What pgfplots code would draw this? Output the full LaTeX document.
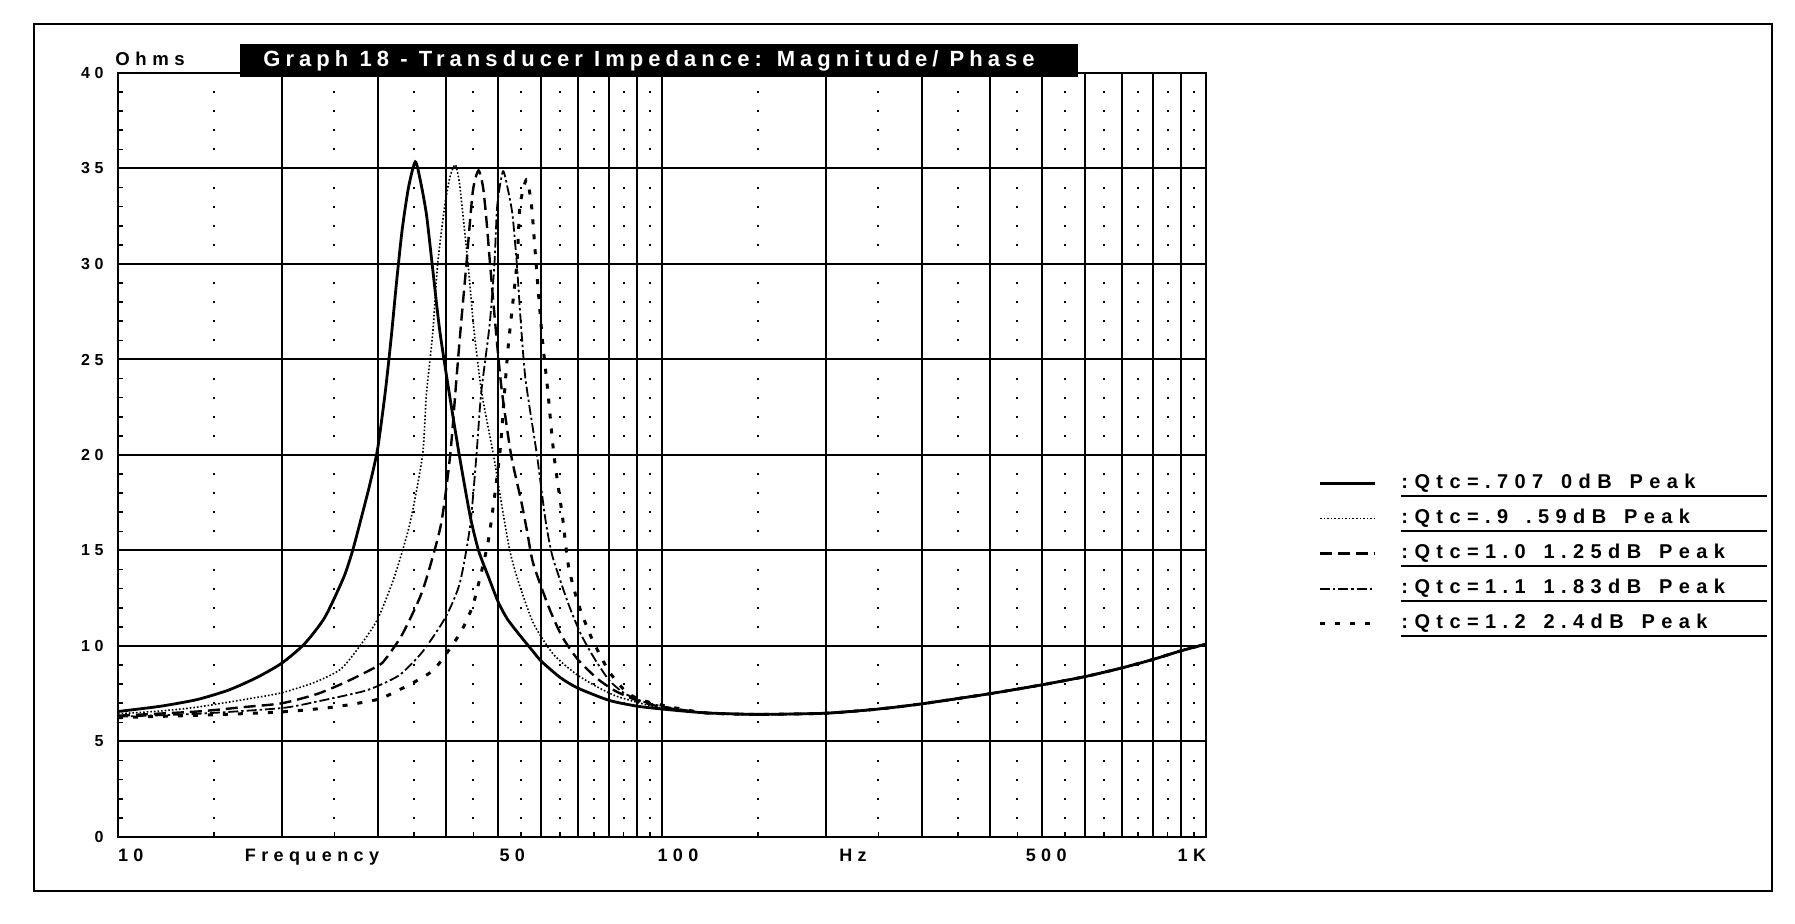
\documentclass[border=0pt]{standalone}
\usepackage{fontspec}
\setmainfont{Liberation Sans}
\newfontfamily\spaced[LetterSpace=30]{Liberation Sans}
\newfontfamily\legfont[LetterSpace=32,WordSpace=1.5]{Liberation Sans}
\newfontfamily\titlefont[LetterSpace=23]{Liberation Sans}
\usepackage{pgfplots}
\pgfplotsset{compat=1.18}
\newcommand\ul{\rlap{\smash{\rule[-4.25pt]{183pt}{1pt}}}}
\begin{document}
\begin{tikzpicture}
\useasboundingbox (-59pt,-43.5pt) rectangle (838.5pt,418.5pt);
\draw[line width=1.2pt] (-42pt,-27pt) rectangle (827pt,406.5pt);
\begin{axis}[
  at={(0pt,0pt)}, anchor=south west,
  width=544pt, height=382pt, scale only axis,
  xmode=log, log basis x=10,
  xmin=10, xmax=1000, ymin=0, ymax=40,
  xtick={10,50,100,500,1000},
  xticklabels={\makebox[0pt][l]{10},\hspace*{14pt}50,\hspace*{16pt}100,\hspace*{4pt}500,\makebox[0pt][r]{1K}},
  extra x ticks={20,30,40,60,70,80,90,200,300,400,600,700,800,900},
  extra x tick labels={},
  extra x tick style={grid=major},
  minor xtick={15,25,35,45,55,65,75,85,95,150,250,350,450,550,650,750,850,950},
  xmajorgrids, xminorgrids, ymajorgrids,
  ytick={0,5,...,40},
  minor y tick num=4,
  major tick length=0pt, minor tick length=2.5pt,
  tick pos=left,
  tick style={black, line width=0.8pt},
  major grid style={line width=1pt, black},
  minor grid style={line width=1pt, black, dash pattern=on 1pt off 8.55pt, dash phase=0.5pt},
  axis line style={line width=1.4pt},
  /pgf/number format/assume math mode=true,
  yticklabel style={font=\spaced\bfseries\fontsize{8}{9}\selectfont, inner sep=0pt, xshift=-7pt},
  xticklabel style={font=\spaced\bfseries\fontsize{9}{10}\selectfont, inner sep=0pt, anchor=base, yshift=-12.2pt},
  legend style={at={(1.103,0.4754)}, anchor=north west, draw=none, fill=none,
    font=\legfont\bfseries\fontsize{10}{11}\selectfont, row sep=8.6pt, inner sep=0pt,
    cells={anchor=west}, nodes={inner sep=0pt, text height=7pt, text depth=2pt},
    /tikz/every odd column/.append style={column sep=12.5pt}},
  legend image code/.code={\draw[#1] (0pt,0pt) -- (27.5pt,0pt);},
  legend cell align=left,
]
% Qtc = .707
\addplot[black, line width=1.4pt, smooth, tension=0.4] coordinates {
(10,6.57) (12,6.85) (14,7.2) (16,7.7) (18,8.35) (20,9.1) (22,10.1) (24,11.5) (26,13.6) (27,15.0) (28,16.7) (29,18.4) (30,20.3) (31,23.3) (31.8,26.2) (32.5,29.0) (33.3,31.8) (34.2,34.0) (35.2,35.35) (36.0,34.3) (36.9,32.6) (37.8,30.0) (39.0,26.6) (40.5,23.5) (42.4,20.0) (44.4,16.8) (46,15.0) (48,13.6) (50,12.3) (52,11.4) (55,10.5) (58,9.7) (60,9.2) (65,8.35) (70,7.8) (80,7.15) (90,6.85) (100,6.7)
(120,6.5) (150,6.42) (200,6.48) (250,6.7) (300,6.97) (400,7.5) (500,7.97) (600,8.4) (700,8.85) (800,9.3) (900,9.75) (1000,10.1)};
\addlegendentry{\ul:Qtc=.707 0dB Peak}
% Qtc = .9
\addplot[black, line width=0.8pt, dash pattern=on 0.8pt off 1pt, smooth, tension=0.4] coordinates {
(10,6.45) (12,6.6) (14,6.8) (17.5,7.25) (20,7.55) (23,8.1) (25.7,8.8) (28,10.1) (30,11.4) (32.2,13.6) (34.4,16.4) (36.3,20.0) (36.9,23.2) (37.9,26.4) (38.7,30.0) (39.9,33.1) (40.8,34.6) (41.7,35.2) (42.4,34.3) (42.9,33.0) (44.0,30.0) (45.1,26.6) (46.6,23.3) (49.0,20.0) (50.8,17.3) (52.5,15.0) (54.4,13.4) (58,11.2) (63,9.6) (69,8.6) (75,7.95) (82,7.4) (90,7.05) (100,6.75)
(120,6.5) (150,6.42) (200,6.48) (250,6.7) (300,6.97) (400,7.5) (500,7.97) (600,8.4) (700,8.85) (800,9.3) (900,9.75) (1000,10.1)};
\addlegendentry{\ul:Qtc=.9 .59dB Peak}
% Qtc = 1.0
\addplot[black, line width=1.2pt, dash pattern=on 6pt off 3pt, smooth, tension=0.4] coordinates {
(10,6.35) (14,6.57) (17,6.8) (20,7.0) (23.3,7.5) (26.4,8.15) (30,8.95) (31,9.3) (33.3,10.6) (36.3,12.9) (39.2,16.3) (40.8,20.0) (41.9,24.0) (42.7,26.8) (43.7,30.0) (44.9,33.8) (46.0,34.9) (46.9,34.0) (47.6,32.2) (48.3,30.0) (49.4,26.8) (50.7,23.5) (52.8,20.0) (55.1,17.6) (56.5,16.0) (58,14.3) (62,12.0) (65.5,10.5) (70,9.3) (76,8.3) (82,7.65) (90,7.15) (100,6.8)
(120,6.5) (150,6.42) (200,6.48) (250,6.7) (300,6.97) (400,7.5) (500,7.97) (600,8.4) (700,8.85) (800,9.3) (900,9.75) (1000,10.1)};
\addlegendentry{\ul:Qtc=1.0 1.25dB Peak}
% Qtc = 1.1
\addplot[black, line width=0.9pt, dash pattern=on 5pt off 1.5pt on 1.2pt off 1.5pt, smooth, tension=0.4] coordinates {
(10,6.3) (14,6.45) (20,6.75) (23.3,7.1) (28,7.6) (30,7.9) (33,8.5) (36.3,9.7) (40,11.5) (42.5,13.3) (44.4,16.3) (45.6,20.0) (46.5,23.2) (48.2,26.8) (49.2,30.0) (49.8,33.1) (51.0,34.85) (52.0,34.0) (53.1,32.6) (54.1,30.0) (54.9,27.3) (56.1,24.0) (58.9,20.0) (61,16.7) (62.9,14.7) (67.3,12.2) (71,10.6) (75.3,9.3) (80,8.2) (85,7.55) (92,7.1) (100,6.85)
(120,6.5) (150,6.42) (200,6.48) (250,6.7) (300,6.97) (400,7.5) (500,7.97) (600,8.4) (700,8.85) (800,9.3) (900,9.75) (1000,10.1)};
\addlegendentry{\ul:Qtc=1.1 1.83dB Peak}
% Qtc = 1.2
\addplot[black, line width=1.5pt, dash pattern=on 2.5pt off 5pt, smooth, tension=0.4] coordinates {
(10,6.25) (15,6.4) (20,6.55) (24.9,6.8) (30,7.2) (32.3,7.6) (35,8.1) (38.2,8.8) (42.2,10.5) (44,11.5) (45.3,12.5) (48,15.6) (50.3,20.0) (51.2,22.8) (52.2,25.8) (54.1,30.0) (54.8,33.0) (56.3,34.4) (57.5,33.2) (58.7,30.0) (60.2,26.2) (61.6,23.5) (63.3,20.0) (65.6,16.8) (67.3,14.2) (70,12.3) (73.5,10.7) (76.4,9.7) (80.2,8.6) (85.9,7.6) (91,7.2) (100,6.9)
(120,6.5) (150,6.42) (200,6.48) (250,6.7) (300,6.97) (400,7.5) (500,7.97) (600,8.4) (700,8.85) (800,9.3) (900,9.75) (1000,10.1)};
\addlegendentry{\ul:Qtc=1.2 2.4dB Peak}
\end{axis}
\node[fill=black, minimum width=419pt, minimum height=16.5pt, anchor=south west, inner sep=0pt] at (61pt,380pt) {};
\node[text=white, anchor=west, inner sep=0pt, font=\titlefont\bfseries\fontsize{11}{13}\selectfont] at (72.5pt,388pt) {Graph 18 - Transducer Impedance: Magnitude/ Phase};
\node[anchor=west, inner sep=0pt, font=\spaced\bfseries\fontsize{9.3}{11}\selectfont] at (-1.5pt,389pt) {Ohms};
\node[anchor=base, inner sep=0pt, font=\spaced\bfseries\fontsize{9}{10}\selectfont] at (97pt,-12.2pt) {Frequency};
\node[anchor=base, inner sep=0pt, font=\spaced\bfseries\fontsize{9}{10}\selectfont] at (367.5pt,-12.2pt) {Hz};
\end{tikzpicture}
\end{document}
